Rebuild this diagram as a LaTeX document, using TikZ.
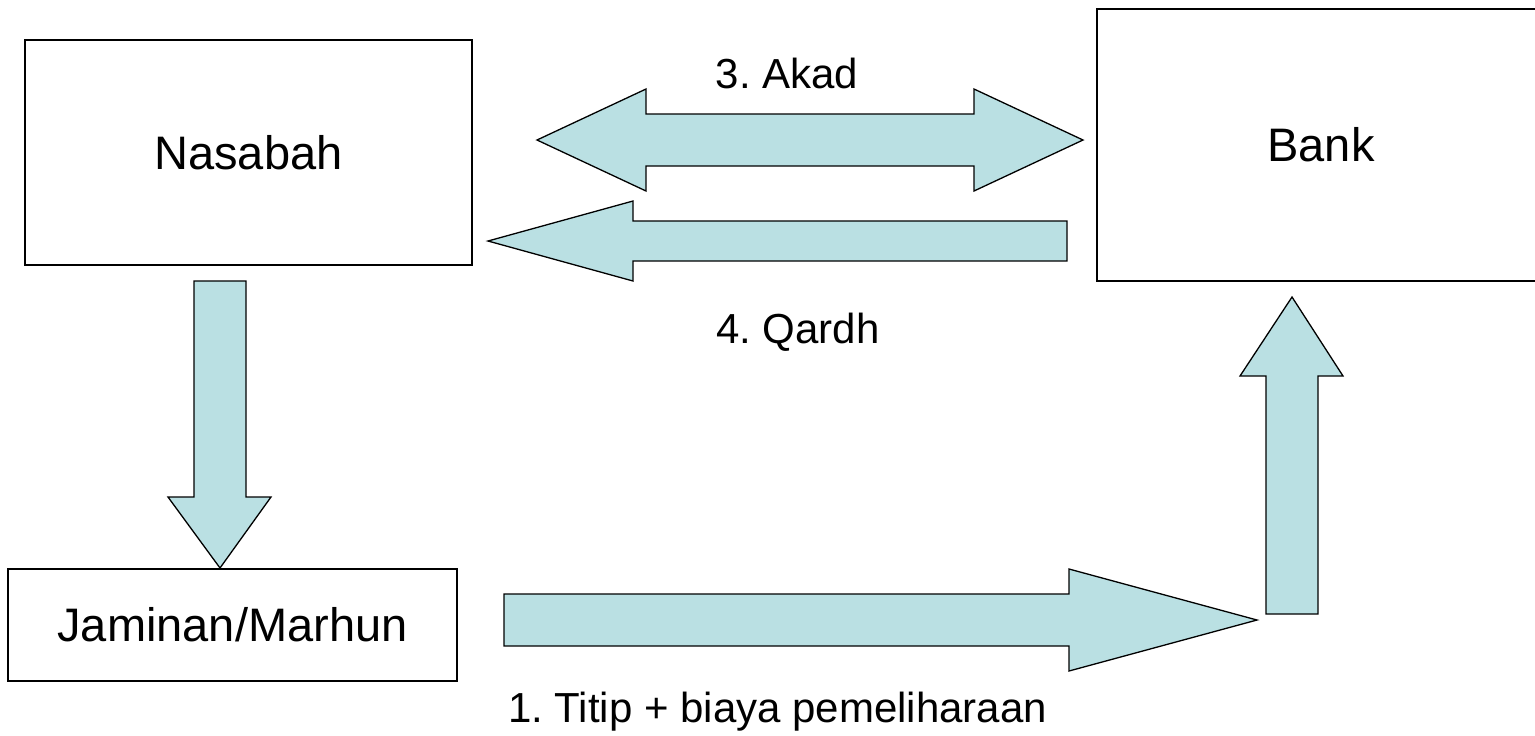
\documentclass[tikz,border=0pt]{standalone}
\usepackage{fontspec}
\setmainfont{Liberation Sans}
\usepackage{tikz}
\frenchspacing
\definecolor{arrowfill}{RGB}{186,224,227}
\tikzset{box/.style={draw,line width=1pt,inner sep=0pt,outer sep=0pt,font=\fontsize{23.5}{28}\selectfont},
  blockarrow/.style={draw,line width=0.65pt,fill=arrowfill,line join=miter},
  lbl/.style={font=\fontsize{21}{25}\selectfont,anchor=base}}

\begin{document}
\begin{tikzpicture}[x=0.5pt,y=-0.5pt]
  \useasboundingbox (0,0) rectangle (1535,735);
  \node[box,minimum width=223.5pt,minimum height=112.5pt] (nasabah) at (248.5,152.5) {Nasabah};
  \node[box,minimum width=224pt,minimum height=136pt] (bank) at (1321,145) {Bank};
  \node[box,minimum width=224.5pt,minimum height=56pt] (jaminan) at (232.5,625) {Jaminan/Marhun};

  % 3. Akad
  \draw[blockarrow] (537,140) -- (646,89) -- (646,114) -- (974,114) -- (974,89) -- (1083,140)
    -- (974,191) -- (974,166) -- (646,166) -- (646,191) -- cycle;
  \node[lbl] (akad) at (787,88) {3. Akad};

  % 4. Qardh
  \draw[blockarrow] (488,241) -- (633,201) -- (633,221) -- (1067,221) -- (1067,261)
    -- (633,261) -- (633,281) -- cycle;
  \node[lbl] (qardh) at (798,343) {4. Qardh};

  % nasabah ke jaminan
  \draw[blockarrow] (194,281) -- (246,281) -- (246,497) -- (271,497) -- (220,568)
    -- (168,497) -- (194,497) -- cycle;

  % 1. Titip
  \draw[blockarrow] (504,594) -- (1069,594) -- (1069,569) -- (1257,620) -- (1069,671)
    -- (1069,646) -- (504,646) -- cycle;
  \node[lbl] (titip) at (777.5,722) {1. Titip + biaya pemeliharaan};

  % jaminan ke bank
  \draw[blockarrow] (1266,614) -- (1266,376) -- (1240,376) -- (1292,297) -- (1343,376)
    -- (1318,376) -- (1318,614) -- cycle;
\end{tikzpicture}
\end{document}
